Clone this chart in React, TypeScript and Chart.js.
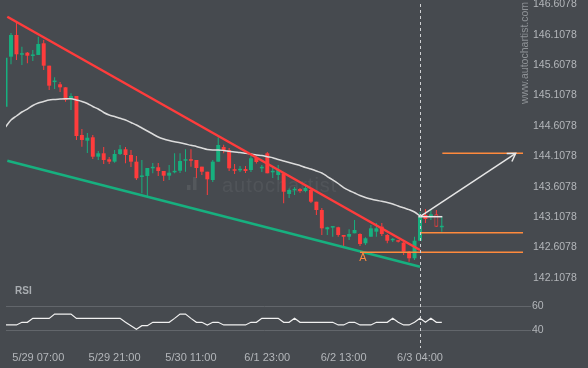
import React, { useEffect, useRef } from 'react';
import { Chart, registerables } from 'chart.js';

Chart.register(...registerables);

// ---------- data ----------
const FIRST_CANDLE = -1; // x index of the first candle in the arrays
const opens = [
  144.925, 145.748, 146.105, 145.780, 145.814, 145.760, 145.776, 145.968, 145.600, 145.330,
  145.294, 145.244, 145.052, 145.101, 144.460, 144.366, 144.422, 144.103, 144.159, 144.060,
  144.021, 144.147, 144.225, 144.131, 144.021, 143.770, 143.786, 143.912, 143.929, 143.868,
  143.791, 143.846, 143.872, 144.037, 144.060, 144.049, 143.939, 143.856, 143.720, 144.021,
  144.262, 144.213, 143.896, 143.879, 143.900, 143.884, 144.082, 143.912, 144.159, 143.846,
  143.802, 143.830, 143.490, 143.550, 143.571, 143.538, 143.555, 143.363, 143.226, 142.909,
  142.937, 142.942, 142.815, 142.787, 142.843, 142.832, 142.679, 142.787, 142.870, 142.952,
  142.815, 142.728, 142.721, 142.689, 142.541, 142.432, 142.721, 143.144, 143.116, 143.156,
  142.942,
];
const highs = [
  145.731, 146.137, 146.302, 145.912, 145.825, 145.858, 146.077, 146.022, 145.600, 145.409,
  145.330, 145.244, 145.146, 145.101, 144.559, 144.493, 144.460, 144.196, 144.262, 144.098,
  144.213, 144.295, 144.262, 144.213, 144.114, 144.049, 143.917, 143.999, 143.999, 143.868,
  143.967, 144.159, 144.159, 144.225, 144.225, 144.049, 143.939, 143.856, 144.049, 144.422,
  144.300, 144.246, 143.983, 143.950, 143.950, 144.114, 144.100, 143.967, 144.180, 143.950,
  143.967, 143.830, 143.580, 143.604, 143.588, 143.620, 143.588, 143.363, 143.259, 142.950,
  142.952, 142.952, 142.815, 142.909, 143.062, 142.843, 142.780, 142.979, 143.013, 143.013,
  142.832, 142.765, 142.730, 142.700, 142.550, 142.787, 143.193, 143.243, 143.243, 143.226,
  143.116,
];
const lows = [
  144.925, 145.623, 145.693, 145.611, 145.639, 145.677, 145.776, 145.529, 145.200, 145.216,
  145.167, 145.008, 144.871, 144.378, 144.267, 144.164, 144.065, 144.049, 143.983, 143.983,
  144.005, 144.131, 143.994, 143.933, 143.720, 143.501, 143.445, 143.830, 143.786, 143.703,
  143.720, 143.830, 143.835, 143.856, 143.939, 143.752, 143.802, 143.473, 143.687, 144.021,
  144.160, 143.868, 143.819, 143.851, 143.835, 143.851, 143.990, 143.851, 143.830, 143.752,
  143.720, 143.337, 143.424, 143.473, 143.510, 143.520, 143.340, 143.144, 142.815, 142.815,
  142.787, 142.787, 142.623, 142.733, 142.843, 142.634, 142.650, 142.787, 142.787, 142.800,
  142.679, 142.700, 142.690, 142.486, 142.376, 142.404, 142.720, 143.013, 143.062, 142.952,
  142.870,
];
const closes = [
  145.731, 146.105, 145.787, 145.795, 145.764, 145.770, 145.957, 145.600, 145.271, 145.340,
  145.244, 145.035, 145.101, 144.443, 144.378, 144.415, 144.103, 144.159, 144.049, 144.021,
  144.147, 144.225, 144.131, 144.021, 143.748, 143.780, 143.917, 143.922, 143.868, 143.791,
  143.840, 143.856, 144.032, 144.060, 144.037, 143.917, 143.856, 143.731, 144.021, 144.295,
  144.200, 143.912, 143.872, 143.889, 143.868, 144.077, 144.016, 143.925, 143.830, 143.856,
  143.884, 143.527, 143.555, 143.560, 143.538, 143.588, 143.363, 143.226, 142.925, 142.942,
  142.947, 142.815, 142.787, 142.832, 142.897, 142.667, 142.761, 142.925, 142.925, 142.832,
  142.721, 142.738, 142.705, 142.541, 142.432, 142.721, 143.116, 143.078, 143.156, 142.952,
  142.963,
];
const movingAverage = [
  144.591, 144.707, 144.772, 144.838, 144.887, 144.945, 144.986, 145.011, 145.035, 145.044,
  145.052, 145.057, 145.057, 145.035, 145.011, 144.978, 144.929, 144.887, 144.830, 144.789,
  144.764, 144.734, 144.707, 144.665, 144.624, 144.575, 144.526, 144.476, 144.427, 144.394,
  144.369, 144.348, 144.332, 144.312, 144.290, 144.271, 144.246, 144.221, 144.213, 144.213,
  144.205, 144.192, 144.180, 144.172, 144.159, 144.147, 144.131, 144.123, 144.103, 144.085,
  144.057, 144.032, 144.008, 143.983, 143.958, 143.925, 143.901, 143.868, 143.835, 143.777,
  143.720, 143.662, 143.596, 143.547, 143.506, 143.465, 143.432, 143.407, 143.386, 143.369,
  143.350, 143.325, 143.292, 143.262, 143.233, 143.193, 143.128,
];
const rsiValues = [
  44.2, 44.2, 44.2, 46.4, 46.4, 49.7, 49.7, 49.7, 49.7, 53.3,
  53.3, 53.3, 53.3, 49.7, 49.7, 49.7, 49.7, 49.7, 49.7, 49.7,
  49.7, 49.7, 46.4, 43.6, 40.6, 43.6, 43.6, 46.4, 46.4, 46.4,
  46.4, 49.7, 53.3, 53.3, 49.7, 46.4, 46.4, 44.2, 46.4, 46.4,
  44.2, 44.2, 44.2, 44.2, 44.2, 46.4, 46.4, 49.7, 49.7, 49.7,
  49.7, 46.4, 46.4, 49.7, 46.4, 46.4, 46.4, 46.4, 46.4, 46.4,
  46.4, 44.2, 44.2, 46.4, 46.4, 44.2, 44.2, 44.2, 46.4, 46.4,
  46.4, 49.7, 46.4, 44.2, 44.2, 46.4, 49.7, 46.4, 49.7, 46.4,
  46.4,
];
const timeTickIndex = [5, 19, 33, 47, 61, 75];
const timeTickLabels = ['5/29 07:00', '5/29 21:00', '5/30 11:00', '6/1 23:00', '6/2 13:00', '6/3 04:00'];
const priceTicks = [142.1078, 142.6078, 143.1078, 143.6078, 144.1078, 144.6078, 145.1078, 145.6078, 146.1078, 146.6078];
const rsiTicks = [40, 60];

const resistanceX = [-0.68, 75];
const resistanceY = [146.405, 142.568];
const supportX = [-0.68, 75];
const supportY = [144.037, 142.294];

const breakoutIndex = 75;
const breakoutPrice = 143.116;
const closeMarkX = [74.7, 79.1];
const targetIndex = 92.55;
const targetPrice = 144.159;
const targetLineStart = 79.1;
const upperLevel = 142.853;
const upperLevelStart = 75.05;
const levelA = 142.53;
const levelAStart = 64;
const hollowCandle = 78;

const xMin = -0.917;
const xMax = 93.89;
const priceMin = 142.0256;
const priceMax = 146.6801;
const rsiMin = 25;
const rsiMax = 79.17;

// ---------- styles ----------
const BG = '#464a4f';
const GREEN = '#17b07f';
const RED = '#ff3c3c';
const ORANGE = '#ff8a3d';
const WHITE = '#e6e6e6';
const TICK = '#b3b6ba';
const GRID = '#62666b';
const FONT = "'Liberation Sans', Arial, sans-serif";

const pts = (xs: number[], ys: number[]) => xs.map((x, i) => ({ x, y: ys[i] }));

const bgPlugin = {
  id: 'bg',
  beforeDraw(chart: any) {
    const { ctx, width, height } = chart;
    ctx.save();
    ctx.fillStyle = BG;
    ctx.fillRect(0, 0, width, height);
    ctx.restore();
  },
};

const watermarkPlugin = {
  id: 'watermark',
  beforeDatasetsDraw(chart: any) {
    const { ctx } = chart;
    ctx.save();
    ctx.fillStyle = 'rgba(255,255,255,0.08)';
    ctx.fillRect(187, 185, 3.5, 5);
    ctx.fillRect(193, 177, 3.5, 13);
    ctx.fillStyle = 'rgba(255,255,255,0.06)';
    ctx.font = `20px ${FONT}`;
    (ctx as any).letterSpacing = '1px';
    ctx.textBaseline = 'alphabetic';
    ctx.fillText('autochartist', 222, 192);
    (ctx as any).letterSpacing = '0px';
    // vertical site text
    ctx.translate(528, 53);
    ctx.rotate(-Math.PI / 2);
    ctx.fillStyle = '#8e9296';
    ctx.font = `10.5px ${FONT}`;
    ctx.textAlign = 'center';
    ctx.textBaseline = 'alphabetic';
    ctx.fillText('www.autochartist.com', 0, 0);
    ctx.restore();
  },
};

const overlayPlugin = {
  id: 'overlay',
  afterDatasetsDraw(chart: any) {
    const { ctx, chartArea } = chart;
    const xs = chart.scales.x;
    const ys = chart.scales.y;
    ctx.save();
    // dashed vertical marker
    const vx = Math.round(xs.getPixelForValue(breakoutIndex)) + 0.5;
    ctx.strokeStyle = '#cfd1d3';
    ctx.lineWidth = 1;
    ctx.setLineDash([3, 3]);
    ctx.beginPath();
    ctx.moveTo(vx, chartArea.top + 4);
    ctx.lineTo(vx, chartArea.bottom);
    ctx.stroke();
    ctx.setLineDash([]);
    // arrow head
    const x0 = xs.getPixelForValue(breakoutIndex);
    const y0 = ys.getPixelForValue(breakoutPrice);
    const x1 = xs.getPixelForValue(targetIndex);
    const y1 = ys.getPixelForValue(targetPrice);
    const a = Math.atan2(y1 - y0, x1 - x0);
    const L = 9;
    ctx.strokeStyle = WHITE;
    ctx.lineWidth = 1.5;
    ctx.beginPath();
    ctx.moveTo(x1 - L * Math.cos(a - 0.55), y1 - L * Math.sin(a - 0.55));
    ctx.lineTo(x1, y1);
    ctx.lineTo(x1 - L * Math.cos(a + 0.55), y1 - L * Math.sin(a + 0.55));
    ctx.stroke();
    // label A
    ctx.fillStyle = ORANGE;
    ctx.font = `11px ${FONT}`;
    ctx.textAlign = 'center';
    ctx.textBaseline = 'middle';
    ctx.fillText('A', xs.getPixelForValue(levelAStart) + 3, ys.getPixelForValue(levelA) + 6);
    // RSI title
    const rs = chart.scales.rsi;
    ctx.fillStyle = '#a9adb1';
    ctx.font = `bold 10px ${FONT}`;
    ctx.textAlign = 'left';
    ctx.fillText('RSI', chartArea.left + 9, rs.top + 8);
    ctx.restore();
  },
};

export default function App() {
  const ref = useRef<HTMLCanvasElement | null>(null);

  useEffect(() => {
    if (!ref.current) return;
    const colorOf = (i: number) => (closes[i] >= opens[i] ? GREEN : RED);
    const bodies = opens.map((o, i) => ({ x: FIRST_CANDLE + i, y: [o, closes[i]] }));
    const wicks = highs.map((h, i) => ({ x: FIRST_CANDLE + i, y: [lows[i], h] }));
    const ma = movingAverage.map((v, i) => ({ x: FIRST_CANDLE + i, y: v }));
    const rsi = rsiValues.map((v, i) => ({ x: FIRST_CANDLE + i, y: v }));
    const line = (data: any[], color: string, width: number, extra: any = {}) => ({
      type: 'line',
      data,
      borderColor: color,
      borderWidth: width,
      pointRadius: 0,
      fill: false,
      yAxisID: 'y',
      ...extra,
    });

    const chart = new Chart(ref.current, {
      type: 'bar',
      data: {
        datasets: [
          line(pts([breakoutIndex, targetIndex], [breakoutPrice, targetPrice]), WHITE, 1.5),
          line(pts(closeMarkX, [breakoutPrice, breakoutPrice]), WHITE, 1.5),
          line(pts([targetLineStart, xMax], [targetPrice, targetPrice]), ORANGE, 1.5),
          line(pts([upperLevelStart, xMax], [upperLevel, upperLevel]), ORANGE, 1.5),
          line(pts([levelAStart, xMax], [levelA, levelA]), ORANGE, 1.5),
          line(pts(resistanceX, resistanceY), RED, 2.5),
          line(pts(supportX, supportY), GREEN, 2.5),
          line(ma, '#dcdcdc', 1.5, { cubicInterpolationMode: 'monotone' }),
          line(rsi, '#f0f0f0', 1.2, { yAxisID: 'rsi' }),
          {
            type: 'bar',
            data: bodies,
            grouped: false,
            maxBarThickness: 4,
            minBarLength: 1.5,
            yAxisID: 'y',
            backgroundColor: (c: any) =>
              FIRST_CANDLE + c.dataIndex === hollowCandle ? BG : colorOf(c.dataIndex),
            borderColor: (c: any) => colorOf(c.dataIndex),
            borderWidth: (c: any) => (FIRST_CANDLE + c.dataIndex === hollowCandle ? 1 : 0),
            borderSkipped: false,
          },
          {
            type: 'bar',
            data: wicks,
            grouped: false,
            maxBarThickness: 1,
            yAxisID: 'y',
            backgroundColor: (c: any) => colorOf(c.dataIndex),
            borderWidth: 0,
          },
        ] as any,
      },
      options: {
        animation: false,
        responsive: false,
        devicePixelRatio: 1,
        layout: { padding: { left: 6, right: 0, top: 0, bottom: 0 } },
        plugins: { legend: { display: false }, tooltip: { enabled: false } },
        events: [],
        scales: {
          x: {
            type: 'linear',
            min: xMin,
            max: xMax,
            offset: false,
            grid: { display: false, drawTicks: false },
            border: { display: false },
            afterBuildTicks: (s: any) => {
              s.ticks = timeTickIndex.map((v) => ({ value: v }));
            },
            afterFit: (s: any) => {
              s.height = 20;
              s.paddingLeft = 0;
              s.paddingRight = 0;
            },
            ticks: {
              autoSkip: false,
              maxRotation: 0,
              padding: 3,
              color: TICK,
              font: { family: FONT, size: 11 },
              callback: (v: any) => {
                const k = timeTickIndex.indexOf(Number(v));
                return k >= 0 ? timeTickLabels[k] : '';
              },
            },
          },
          y: {
            type: 'linear',
            position: 'right',
            stack: 'panels',
            stackWeight: 283,
            min: priceMin,
            max: priceMax,
            grid: { display: false, drawTicks: false },
            border: { display: false },
            afterBuildTicks: (s: any) => {
              s.ticks = priceTicks.map((v) => ({ value: v }));
            },
            afterFit: (s: any) => {
              s.width = 65;
              s.paddingTop = 0;
              s.paddingBottom = 0;
            },
            ticks: {
              padding: 10,
              color: TICK,
              font: { family: FONT, size: 10.5 },
              callback: (v: any) => Number(v).toFixed(4),
            },
          },
          rsi: {
            type: 'linear',
            position: 'right',
            stack: 'panels',
            stackWeight: 65,
            min: rsiMin,
            max: rsiMax,
            grid: { color: GRID, lineWidth: 1, drawTicks: true, tickLength: 8 },
            border: { display: false },
            afterBuildTicks: (s: any) => {
              s.ticks = rsiTicks.map((v) => ({ value: v }));
            },
            afterFit: (s: any) => {
              s.width = 65;
              s.paddingTop = 0;
              s.paddingBottom = 0;
            },
            ticks: {
              padding: 1,
              color: TICK,
              font: { family: FONT, size: 10.5 },
              callback: (v: any) => String(v),
            },
          },
        } as any,
      },
      plugins: [bgPlugin, watermarkPlugin, overlayPlugin],
    } as any);

    return () => chart.destroy();
  }, []);

  return (
    <div style={{ position: 'fixed', left: 0, top: 0, width: 588, height: 368, background: BG }}>
      <canvas ref={ref} width={588} height={368} style={{ display: 'block', width: 588, height: 368 }} />
    </div>
  );
}
